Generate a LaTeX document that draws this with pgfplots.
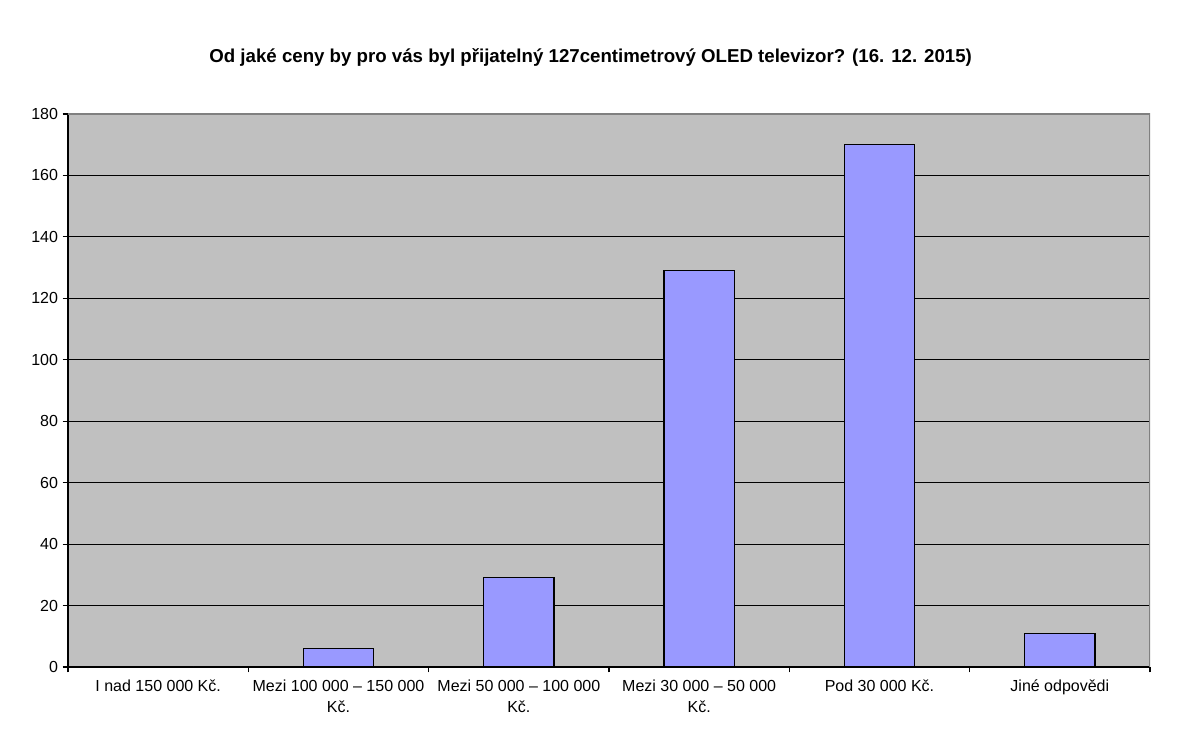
\documentclass[border=0pt]{standalone}
\usepackage{pgfplots}
\pgfplotsset{compat=1.18}
\usepackage{fontspec}
\setmainfont{Liberation Sans}
\definecolor{plotbg}{HTML}{C0C0C0}
\definecolor{barfill}{HTML}{9999FF}
\begin{document}
\begin{tikzpicture}
\useasboundingbox (0,0) rectangle (900pt,558.75pt);
\node[font=\bfseries\fontsize{14}{16}\selectfont] at (443pt,516pt) {Od jaké ceny by pro vás byl přijatelný 127centimetrový OLED televizor? (16. 12. 2015)};
\begin{axis}[
  at={(51pt,58.5pt)}, anchor=south west,
  scale only axis, width=811.5pt, height=414.75pt,
  xmin=-0.5, xmax=5.5, ymin=0, ymax=180,
  ytick={0,20,...,180},
  xtick={0,...,5},
  xticklabels={I nad 150 000 Kč., Mezi 100 000 – 150 000\\Kč., Mezi 50 000 – 100 000\\Kč., Mezi 30 000 – 50 000\\Kč., Pod 30 000 Kč., Jiné odpovědi},
  xticklabel style={align=center, font=\fontsize{12}{16}\selectfont, yshift=-2pt},
  yticklabel style={font=\fontsize{12}{14}\selectfont},
  /pgf/number format/assume math mode=true,
  minor xtick={-0.5,0.5,...,5.5},
  major tick length=4pt,
  minor tick length=4pt,
  major x tick style={draw=none},
  tick align=outside,
  tick style={black, line width=0.8pt},
  axis lines*=left,
  axis line style={-, black, line width=1pt},
  axis background/.style={fill=plotbg},
  ymajorgrids, major grid style={black, line width=0.8pt},
  ybar, bar width=0.39,
]
\addplot[fill=barfill, draw=black, line width=0.8pt] coordinates {
(0,0) (1,6) (2,29) (3,129) (4,170) (5,11)
};
\draw[gray, line width=0.8pt] (rel axis cs:0,1) -- (rel axis cs:1,1) -- (rel axis cs:1,0);
\end{axis}
\end{tikzpicture}
\end{document}
